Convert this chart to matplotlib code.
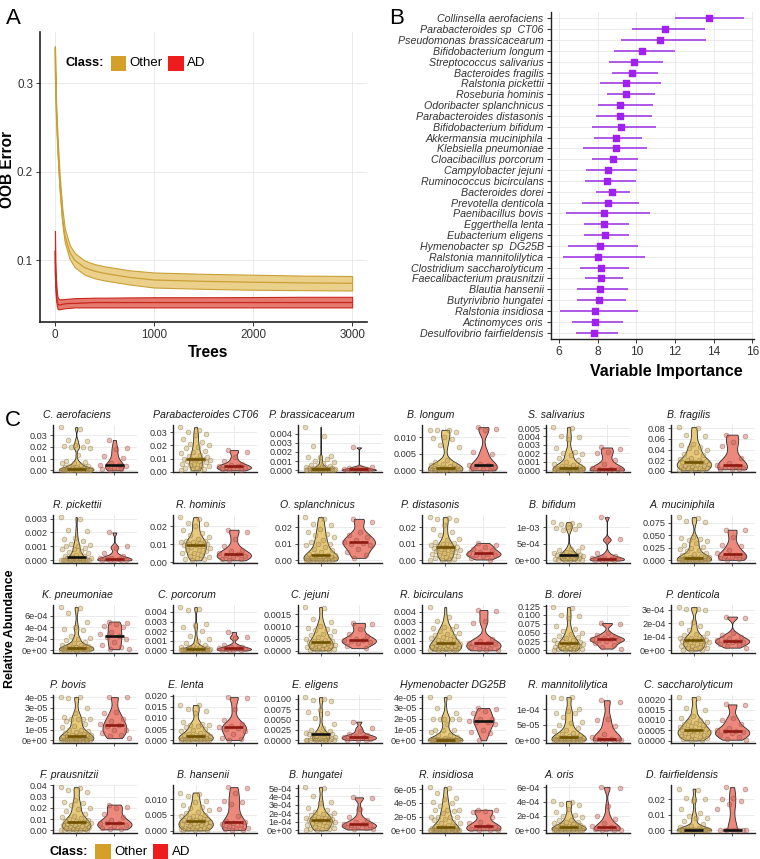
import numpy as np
import matplotlib
matplotlib.use('Agg')
import matplotlib.pyplot as plt
from matplotlib.patches import Rectangle

plt.rcParams['font.family'] = ['Liberation Sans', 'DejaVu Sans']

W, H = 760, 859

# ---- panel A: OOB error vs number of trees
trees = [1, 5, 10, 20, 30, 50, 75, 100, 150, 200, 300, 400, 500, 750, 1000, 1500, 2000, 2500, 3000]
other_mean = [.340, .310, .280, .250, .225, .185, .150, .128, .109, .100, .0915, .0875, .0850, .0805, .0775, .0760, .0750, .0742, .0738]
other_lo = [.338, .305, .273, .242, .216, .176, .141, .120, .101, .092, .0835, .0795, .0770, .0725, .0690, .0675, .0665, .0660, .0656]
other_hi = [.342, .315, .287, .258, .234, .194, .159, .136, .117, .108, .0995, .0955, .0930, .0885, .0860, .0845, .0835, .0825, .0820]
ad_mean = [.110, .085, .070, .055, .050, .049, .050, .0505, .051, .051, .0515, .052, .052, .052, .052, .052, .052, .052, .052]
ad_lo = [.085, .070, .058, .048, .0445, .0445, .045, .0455, .046, .0465, .0465, .0465, .0465, .0465, .0465, .0465, .0465, .0465, .0465]
ad_hi = [.133, .100, .082, .063, .057, .0555, .0558, .056, .0565, .057, .0572, .0575, .0575, .0578, .058, .058, .0582, .0585, .0585]

# ---- panel B: variable importance
b_names = ['Collinsella aerofaciens', 'Parabacteroides sp  CT06', 'Pseudomonas brassicacearum',
           'Bifidobacterium longum', 'Streptococcus salivarius', 'Bacteroides fragilis',
           'Ralstonia pickettii', 'Roseburia hominis', 'Odoribacter splanchnicus',
           'Parabacteroides distasonis', 'Bifidobacterium bifidum', 'Akkermansia muciniphila',
           'Klebsiella pneumoniae', 'Cloacibacillus porcorum', 'Campylobacter jejuni',
           'Ruminococcus bicirculans', 'Bacteroides dorei', 'Prevotella denticola',
           'Paenibacillus bovis', 'Eggerthella lenta', 'Eubacterium eligens',
           'Hymenobacter sp  DG25B', 'Ralstonia mannitolilytica', 'Clostridium saccharolyticum',
           'Faecalibacterium prausnitzii', 'Blautia hansenii', 'Butyrivibrio hungatei',
           'Ralstonia insidiosa', 'Actinomyces oris', 'Desulfovibrio fairfieldensis']
b_mid = [13.74, 11.47, 11.21, 10.28, 9.87, 9.79, 9.49, 9.49, 9.18, 9.18, 9.21, 8.96, 8.93, 8.79, 8.53,
         8.48, 8.75, 8.53, 8.34, 8.33, 8.37, 8.12, 8.00, 8.17, 8.17, 8.15, 8.05, 7.86, 7.88, 7.84]
b_low = [12.02, 9.80, 9.20, 8.86, 8.60, 8.75, 8.12, 8.49, 8.01, 7.91, 7.69, 7.81, 7.25, 7.70, 7.39,
         7.33, 7.91, 7.19, 6.35, 7.31, 7.31, 6.48, 6.21, 7.08, 7.33, 6.93, 6.94, 6.05, 6.66, 6.91]
b_high = [15.55, 13.54, 13.59, 12.01, 11.39, 11.11, 11.30, 10.99, 10.85, 10.80, 11.04, 10.28, 10.53, 10.11, 10.06,
          9.99, 9.67, 10.15, 10.73, 9.61, 9.61, 10.10, 10.44, 9.60, 9.34, 9.58, 9.49, 10.11, 9.32, 9.08]

# ---- panel C: relative abundance per species (values in c_units)
c_titles = ['C. aerofaciens', 'Parabacteroides CT06', 'P. brassicacearum', 'B. longum', 'S. salivarius', 'B. fragilis',
            'R. pickettii', 'R. hominis', 'O. splanchnicus', 'P. distasonis', 'B. bifidum', 'A. muciniphila',
            'K. pneumoniae', 'C. porcorum', 'C. jejuni', 'R. bicirculans', 'B. dorei', 'P. denticola',
            'P. bovis', 'E. lenta', 'E. eligens', 'Hymenobacter DG25B', 'R. mannitolilytica', 'C. saccharolyticum',
            'F. prausnitzii', 'B. hansenii', 'B. hungatei', 'R. insidiosa', 'A. oris', 'D. fairfieldensis']
c_units = [1e-3, 1e-3, 1e-4, 1e-3, 1e-4, 1e-2,
           1e-4, 1e-3, 1e-3, 1e-3, 1e-5, 1e-3,
           1e-5, 1e-4, 1e-4, 1e-4, 1e-3, 1e-5,
           1e-6, 1e-3, 1e-4, 1e-6, 1e-6, 1e-4,
           1e-3, 1e-4, 1e-5, 1e-6, 1e-5, 1e-3]
c_ticks = [[0, 10, 20, 30], [0, 10, 20, 30], [0, 10, 20, 30, 40], [0, 5, 10], [0, 10, 20, 30, 40, 50], [0, 2, 4, 6, 8],
           [0, 10, 20, 30], [0, 10, 20], [0, 10, 20], [0, 10, 20], [0, 50, 100], [0, 25, 50, 75],
           [0, 20, 40, 60], [0, 10, 20, 30, 40], [0, 5, 10, 15], [0, 10, 20, 30, 40], [0, 25, 50, 75, 100, 125], [0, 10, 20, 30],
           [0, 10, 20, 30, 40], [0, 5, 10, 15, 20], [0, 25, 50, 75, 100], [0, 10, 20, 30, 40], [0, 50, 100], [0, 5, 10, 15, 20],
           [0, 10, 20, 30, 40], [0, 50, 100], [0, 10, 20, 30, 40, 50], [0, 20, 40, 60], [0, 20, 40, 60], [0, 10, 20]]
c_fmt = ['{:.2f}', '{:.2f}', '{:.3f}', '{:.3f}', '{:.3f}', '{:.2f}',
         '{:.3f}', '{:.2f}', '{:.2f}', '{:.2f}', '{:.0e}', '{:.3f}',
         '{:.0e}', '{:.3f}', '{:.4f}', '{:.3f}', '{:.3f}', '{:.0e}',
         '{:.0e}', '{:.3f}', '{:.4f}', '{:.0e}', '{:.0e}', '{:.4f}',
         '{:.2f}', '{:.3f}', '{:.0e}', '{:.0e}', '{:.0e}', '{:.2f}']
c_other = [
    [37, 35, 26, 25, 22, 21, 20, 20, 19, 13, 8, 7, 6, 6, 5, 4, 4, 3, 3, 2, 2, 1.5, 1.2, 1.1, 1, 1, 0.8, 0.7, 0.6, 0.5, 0.5, 0.4, 0.3, 0.3, 0.2, 0.2, 0.1, 0.1, 0.05, 0, 0, 0, 0, 0, 0],
    [34, 32, 30, 29, 28, 25, 23, 21, 20, 19, 18, 16, 15, 14, 13, 12, 11, 10, 10, 9.5, 9.5, 9, 8.5, 8, 7, 6, 6, 5, 5, 4, 3, 3, 2, 2, 1, 1],
    [47, 37, 26, 16, 15, 14, 12, 10, 9, 8, 6, 5, 5, 4, 4, 3, 3, 3, 2.5, 2, 2, 2, 1.5, 1, 1, 1, 0.5, 0.5, 0.3, 0.2, 0.1, 0, 0, 0, 0, 0, 0, 0, 0],
    [12.2, 12, 12, 11.5, 10, 9.8, 9.5, 7.5, 7, 3, 2.5, 2, 2, 1.5, 1.2, 1, 0.8, 0.7, 0.6, 0.6, 0.5, 0.5, 0.4, 0.3, 0.3, 0.2, 0.2, 0.1, 0.1, 0, 0, 0, 0, 0, 0],
    [51, 50, 40, 39, 37, 26, 22, 20, 19, 18, 15, 12, 10, 8, 6, 5, 5, 4, 3, 3, 3, 2.5, 2, 2, 1.5, 1, 1, 0.5, 0.5, 0.3, 0.1, 0, 0, 0, 0, 0, 0, 0],
    [8.2, 8.1, 6.8, 6.5, 5.0, 4.8, 4.5, 4.3, 4.0, 3.5, 3.2, 3.0, 2.5, 2.2, 2.0, 2.0, 1.9, 1.7, 1.7, 1.6, 1.5, 1.3, 1.2, 1.0, 1.0, 0.8, 0.7, 0.6, 0.5, 0.5, 0.4, 0.3, 0.2, 0.2, 0.1],
    [31, 30, 22, 21, 16, 15, 14, 12, 11, 10, 10, 9, 8, 8, 7, 6, 5, 4, 3, 3, 2.5, 2, 2, 1.5, 1, 1, 0.5, 0.5, 0.3, 0.2, 0.1, 0, 0, 0, 0, 0, 0, 0, 0, 0, 0, 0],
    [25, 24, 22, 21, 20, 18, 16, 15, 14, 13, 12, 12, 11, 11, 10.5, 10, 10, 9.5, 9.5, 9, 8.5, 8, 7, 6.5, 6, 5, 5, 4, 3.5, 3, 2.5, 2, 1.5, 1],
    [26, 25, 22, 21, 19, 17, 16, 15, 14, 12, 11, 10, 10, 9, 8, 7, 6, 5, 4, 3.5, 3, 3, 2.5, 2, 2, 1.5, 1.5, 1, 1, 0.8, 0.5, 0.5, 0.3, 0.2, 0.1, 0, 0, 0, 0, 0],
    [26, 25.5, 25, 24, 21, 19, 17, 15, 13, 12, 11, 10.5, 10, 9.5, 9, 8.5, 8, 8, 7.5, 7, 7, 6.5, 6, 5.5, 5, 4.5, 4, 3.5, 3, 2.5, 2, 1.5, 1, 0.5, 0.2, 0],
    [115, 112, 108, 105, 100, 98, 95, 90, 40, 35, 30, 28, 25, 22, 20, 18, 17, 16, 16, 15, 14, 12, 10, 9, 8, 6, 5, 4, 3, 2, 1, 0.5, 0, 0],
    [86, 84, 78, 76, 46, 44, 42, 40, 38, 35, 30, 27, 25, 22, 20, 18, 15, 12, 10, 8, 7, 6, 5.5, 5, 4.5, 4, 3.5, 3, 2.5, 2, 1.5, 1, 1, 0.5, 0.5, 0.2, 0.1, 0, 0, 0, 0, 0, 0, 0, 0],
    [75, 74, 65, 50, 40, 37, 36, 25, 22, 20, 18, 15, 12, 10, 9, 8, 7, 6, 5, 5, 4.5, 4, 4, 3.5, 3, 3, 2.5, 2, 2, 1.5, 1, 1, 0.5, 0.5, 0, 0, 0, 0, 0, 0],
    [45, 43, 42, 27, 26, 24, 20, 15, 12, 10, 8, 6, 5, 4, 3, 3, 2, 2, 1.5, 1, 1, 1, 0.8, 0.5, 0.5, 0.3, 0.2, 0.1, 0.1, 0, 0, 0, 0, 0, 0, 0, 0, 0, 0, 0],
    [18, 17.5, 13, 12, 10, 9.5, 9, 8.5, 8, 7, 6.5, 6, 5.5, 5, 4.5, 4, 4, 3.5, 3.5, 3, 3, 2.5, 2.5, 2, 2, 1.5, 1.5, 1, 1, 0.5, 0.5, 0.3, 0.2, 0.1],
    [45, 35, 31, 25, 24, 23, 22, 20, 18, 17, 16, 15, 14, 13, 12, 11, 10, 9, 8, 8, 7.5, 7, 6, 5, 5, 4, 3.5, 3, 2.5, 2, 1.5, 1, 0.5, 0.5, 0.3, 0.2, 0.1, 0],
    [122, 121, 100, 98, 90, 70, 60, 55, 50, 45, 40, 38, 35, 30, 28, 26, 24, 22, 21, 20, 19, 18, 16, 14, 12, 10, 9, 8, 6, 5, 4, 3, 2, 1, 0.5, 0],
    [32, 31, 31, 30, 21, 20, 18, 15, 13, 12, 11, 10, 9.5, 9, 8.5, 8, 8, 7.5, 7, 7, 6.5, 6, 5, 4.5, 4, 3.5, 3, 2.5, 2, 1.5, 1, 0.5, 0.2, 0],
    [40, 40, 39, 30, 25, 22, 20, 20, 20, 20, 18, 15, 13, 12, 10, 10, 9, 8, 7, 6, 5, 5, 4.5, 4, 4, 3.5, 3, 3, 2, 2, 1.5, 1, 1, 0.5, 0, 0, 0, 0, 0, 0, 0, 0, 0, 0, 0, 0],
    [15.8, 15.6, 14, 13, 12, 8, 7.5, 7, 7, 6.5, 6, 5, 4.5, 4, 3.5, 3, 3, 2.5, 2.2, 2, 2, 1.8, 1.5, 1.2, 1, 1, 0.8, 0.5, 0.5, 0.3, 0.2, 0.1, 0, 0, 0, 0, 0, 0],
    [104, 100, 98, 95, 72, 68, 65, 55, 40, 30, 25, 22, 20, 18, 17, 16, 15.5, 15, 14.5, 12, 10, 8, 6, 5, 4, 3, 2, 1.5, 1, 0.5, 0.5, 0, 0, 0, 0, 0],
    [40, 40, 30, 25, 20, 20, 20, 20, 20, 15, 10, 10, 10, 8, 5, 5, 3, 2, 1, 0.5, 0, 0, 0, 0, 0, 0, 0, 0, 0, 0, 0, 0, 0, 0, 0, 0, 0, 0, 0, 0],
    [140, 140, 138, 100, 95, 90, 88, 75, 60, 55, 50, 40, 35, 30, 25, 20, 18, 15, 12, 10, 10, 9, 8, 6, 5, 4, 3, 2, 1, 0.5, 0, 0, 0, 0, 0, 0, 0, 0, 0, 0],
    [21, 20.5, 16, 15, 12, 11, 10, 9.5, 9, 8.5, 8, 7.5, 7, 6.5, 6, 5.5, 5.5, 5, 5, 4.5, 4.5, 4, 4, 3.5, 3, 3, 2.5, 2, 2, 1.5, 1, 1, 0.5, 0.2],
    [38.5, 38, 36, 34, 27, 25, 24, 23, 20, 19, 17, 15, 13, 12, 11, 10, 9, 8.5, 8, 7.5, 7, 7, 6.5, 6, 5.5, 5, 4.5, 4, 3.5, 3, 2.5, 2, 1.5, 1, 0.8, 0.5, 0.4, 0.3, 0.2, 0.1],
    [121, 117, 110, 95, 90, 82, 75, 72, 65, 60, 55, 50, 47, 45, 42, 40, 38, 35, 33, 31, 30, 29, 28, 26, 25, 23, 20, 18, 16, 14, 12, 10, 8, 7, 6, 5, 4, 3, 2, 1],
    [51, 50, 40, 33, 32, 26, 24, 22, 20, 19, 18, 17, 16, 15, 14, 13.5, 13, 12.5, 12, 12, 11, 10, 10, 9, 8, 7, 6, 5, 4, 3, 2, 1.5, 1, 0.5, 0],
    [63, 62, 55, 47, 45, 42, 40, 35, 30, 30, 29, 28, 25, 20, 20, 20, 19, 17, 15, 12, 10, 10, 8, 6, 5, 5, 4, 3, 2, 1, 0, 0, 0, 0, 0, 0, 0, 0, 0, 0, 0, 0, 0, 0, 0, 0, 0, 0],
    [41, 40, 36, 35, 30, 25, 22, 20, 18, 15, 14, 12, 11, 10, 9, 8, 7, 6, 5.5, 5, 4.5, 4.5, 4, 4, 3.5, 3, 2.5, 2, 1.5, 1, 1, 0.5, 0.5, 0, 0, 0, 0, 0, 0, 0],
    [27, 26, 21, 20, 19, 14, 11, 9, 8, 8, 6, 4, 3, 2, 1.5, 1, 0.8, 0.5, 0.4, 0.3, 0.3, 0.2, 0.2, 0.1, 0.1, 0, 0, 0, 0, 0, 0, 0, 0, 0, 0, 0, 0, 0, 0, 0],
]
c_ad = [
    [26, 19, 18, 12, 11, 6, 5, 5, 4, 4, 2, 1, 1, 0],
    [16.5, 15, 11, 8, 6, 5, 4.5, 4, 3.5, 3, 2.5, 2, 1.5, 1],
    [25, 4, 3.5, 3, 2, 1.5, 1, 0.8, 0.5, 0.3, 0.2, 0.1, 0],
    [13, 12.5, 12, 5.5, 5, 1.8, 1.5, 1.5, 1.2, 1, 0.5, 0.3, 0],
    [27, 25, 22, 20, 12, 8, 3, 1.5, 1, 1, 0.5, 0.3, 0.1, 0, 0, 0],
    [6.8, 6.6, 5.5, 4.7, 2.5, 1.5, 1.1, 1.0, 0.8, 0.6, 0.4, 0.3, 0.3],
    [20, 10, 9, 5, 3, 2, 1.5, 1, 0.8, 0.5, 0.3, 0.1, 0, 0],
    [18, 17, 13, 9, 7, 6, 5, 4.5, 4, 3.5, 3, 2, 1.5, 1],
    [25, 23, 17, 15, 14, 12, 11, 10.5, 10, 9, 7, 5, 3, 1.5],
    [10.5, 9, 8, 7, 6, 5, 4.5, 4, 3.5, 3, 2.5, 1.5, 0.5],
    [130, 63, 62, 22, 12, 8, 6, 5, 4, 3, 2, 1, 0.5, 0],
    [61, 60, 47, 31, 28, 20, 15, 10, 9, 8, 6, 4, 2, 1],
    [50, 47, 45, 42, 40, 32, 28, 25, 24, 20, 15, 10, 5, 3, 2],
    [19, 14, 13, 6, 4, 3, 2.5, 2, 1.5, 1, 0.5, 0.3, 0.1, 0],
    [11.5, 11, 9, 7, 6, 5, 4.3, 4.2, 4, 3.5, 3, 2, 1],
    [42, 41, 31, 29, 12, 10, 8, 7.5, 7, 6.5, 5, 3, 2, 1, 0.5, 0],
    [77, 75, 50, 42, 38, 35, 32, 31, 30, 28, 25, 20, 15, 10, 5],
    [25, 24, 13, 11, 10, 9, 8, 7, 7, 6.5, 6, 5, 4, 3, 2],
    [40, 40, 26, 25, 20, 18, 15, 14, 13, 10, 10, 7, 5, 4, 2],
    [19.3, 19, 14, 9, 7.5, 6.5, 6, 5.5, 5, 4, 3, 1, 0.5, 0.2],
    [45, 30, 22, 15, 12, 10, 9, 8, 6, 4, 2, 1, 0.5],
    [30, 29, 27, 25, 20, 20, 18, 17, 17, 15, 10, 8, 7, 0],
    [130, 125, 70, 65, 45, 20, 10, 4, 3, 2, 1, 0.5, 0, 0, 0],
    [17.5, 17, 11, 10, 8, 6, 5, 4.8, 4.5, 4, 3.5, 3, 2, 1, 0.5],
    [23, 21, 20, 15, 12, 9, 7, 6.8, 6.5, 5, 4, 2.5, 1.5, 1],
    [138, 135, 120, 95, 92, 85, 70, 45, 30, 26, 25, 22, 18, 15, 10, 8, 5, 3, 2],
    [39, 38, 25, 16, 12, 10, 8, 7, 6.5, 6, 5, 4, 3, 2, 1],
    [30, 29, 28, 27, 20, 12, 10, 6, 5, 5, 3, 2, 1, 0, 0],
    [60, 59, 34, 20, 16, 10, 6, 4, 3.5, 3, 2, 1.5, 1, 0.5, 0],
    [28, 27, 21, 20.5, 19, 17, 14, 0.3, 0.2, 0.1, 0, 0, 0, 0, 0],
]
# medians drawn in black instead of the group colour: (panel, group)
black_medians = {(0, 1), (3, 1), (6, 0), (10, 0), (12, 1), (20, 0), (21, 1), (29, 0), (29, 1)}

# layout (pixels)
col_left = [53.3, 172.7, 297.7, 422.3, 545.7, 671]
row_bottom = [472.5, 562.5, 652.5, 742.5, 832.5]
c_title_x = [76.7, 206, 312.3, 430.3, 556.7, 688.3, 77.5, 201, 317.3, 430, 552.5, 682.5,
             77.5, 186.7, 309.7, 432, 563, 692.5, 67.5, 185.8, 315, 453.3, 567.5, 688,
             69, 203, 315.5, 445.8, 559.7, 682]

gold = '#D4A02A'
red = '#EE1C1C'
tick_col = '#333333'

fig = plt.figure(figsize=(W / 100, H / 100), dpi=100)


def px_axes(l, t, r, b):
    return fig.add_axes([l / W, 1 - b / H, (r - l) / W, (b - t) / H])


def fig_text(x, y, s, **kw):
    fig.text(x / W, 1 - y / H, s, **kw)


def fig_rect(l, t, r, b, color):
    fig.add_artist(Rectangle((l / W, 1 - b / H), (r - l) / W, (b - t) / H,
                             transform=fig.transFigure, facecolor=color, edgecolor='none'))


def style_axes(ax, size, lw=1.0):
    for s in ['top', 'right']:
        ax.spines[s].set_visible(False)
    for s in ['left', 'bottom']:
        ax.spines[s].set_color('#222222')
        ax.spines[s].set_linewidth(lw)
    ax.tick_params(labelsize=size, colors=tick_col, length=3, width=0.7, pad=2)
    ax.grid(True, color='#EBEBEB', lw=0.7)
    ax.set_axisbelow(True)


def legend(x, y):
    fig_text(x, y, 'Class:', fontsize=9.3, fontweight='bold', va='center')
    fig_rect(x + 45, y - 7.5, x + 60.5, y + 7.5, gold)
    fig_text(x + 64, y, 'Other', fontsize=9.5, va='center')
    fig_rect(x + 102.5, y - 7.5, x + 118, y + 7.5, red)
    fig_text(x + 121.5, y, 'AD', fontsize=9.5, va='center')


# ---------------- A
axA = px_axes(40, 32, 367, 322)
axA.fill_between(trees, other_lo, other_hi, facecolor='#EBD08C', edgecolor='#C9A035', lw=0.8)
axA.plot(trees, other_mean, color='#C9A035', lw=0.9)
axA.fill_between(trees, ad_lo, ad_hi, facecolor='#E57A6E', edgecolor='#C8281E', lw=0.8)
axA.plot(trees, ad_mean, color='#C8281E', lw=0.9)
axA.set_xlim(-150, 3150)
axA.set_ylim(0.030, 0.358)
axA.set_xticks([0, 1000, 2000, 3000])
axA.set_yticks([0.1, 0.2, 0.3])
style_axes(axA, 8.4, lw=1.2)
fig_text(208, 352.7, 'Trees', fontsize=11.2, fontweight='bold', ha='center', va='center')
fig_text(8, 169, 'OOB Error', fontsize=11.2, fontweight='bold', ha='center', va='center', rotation=90)
legend(65.7, 63.3)

# ---------------- B
axB = px_axes(550.5, 11.8, 754, 339.2)
rows = np.arange(len(b_names))
axB.hlines(rows, b_low, b_high, color='#A94BE6', lw=1.3, zorder=2)
axB.scatter(b_mid, rows, marker='s', s=14, color='#A020F0', zorder=3)
axB.set_ylim(len(b_names) - 0.4, -0.6)
axB.set_xlim(5.57, 16.08)
axB.set_xticks([6, 8, 10, 12, 14, 16])
axB.set_yticks(rows)
axB.set_yticklabels(b_names, fontstyle='italic', fontsize=7.7, color='#1A1A1A')
style_axes(axB, 8.6)
axB.tick_params(axis='y', labelsize=7.7)
fig_text(666, 371.7, 'Variable Importance', fontsize=11.5, fontweight='bold', ha='center', va='center')

# ---------------- C


def kde(v):
    n = len(v)
    sd = v.std(ddof=1)
    q75, q25 = np.percentile(v, [75, 25])
    lo = min(sd, (q75 - q25) / 1.34)
    if lo <= 0:
        lo = sd
    bw = 0.9 * lo * n ** -0.2
    y = np.linspace(v.min(), v.max(), 300)
    d = np.exp(-0.5 * ((y[:, None] - v[None, :]) / bw) ** 2).sum(1) / (n * bw * np.sqrt(2 * np.pi))
    return y, d


v_fill = ['#E8CA7C', '#EC887C']
p_face = [(0.76, 0.64, 0.38, 0.42), (0.76, 0.38, 0.34, 0.42)]
p_edge = [(0.50, 0.42, 0.20, 0.5), (0.55, 0.28, 0.24, 0.5)]
med_col = ['#6E5200', '#8E1A12']

for i in range(30):
    r, c = divmod(i, 6)
    b = row_bottom[r]
    ax = px_axes(col_left[c], b - 47.5, col_left[c] + 84, b)
    u = c_units[i]
    groups = [np.array(c_other[i], float) * u, np.array(c_ad[i], float) * u]
    dens = [kde(g) for g in groups]
    m = max(d.max() for _, d in dens)
    for k in range(2):
        g = groups[k]
        yy, d = dens[k]
        x0 = k + 1
        half = d / m * 0.45
        ax.fill_betweenx(yy, x0 - half, x0 + half, facecolor=v_fill[k], edgecolor='#2A2A2A',
                         lw=0.6, zorder=2)
        n = len(g)
        offs = ((np.arange(n) * 0.618034 + 0.31 * k) % 1 - 0.5) * 0.8
        ax.scatter(x0 + offs, g, s=12, facecolor=p_face[k], edgecolor=p_edge[k], lw=0.5, zorder=3)
        col = '#111111' if (i, k) in black_medians else med_col[k]
        ax.hlines(np.median(g), x0 - 0.25, x0 + 0.25, color=col, lw=1.9, zorder=4)
    allv = np.concatenate(groups)
    lo, hi = allv.min(), allv.max()
    rng = hi - lo
    ax.set_ylim(lo - 0.05 * rng, hi + 0.05 * rng)
    ax.set_xlim(0.4, 2.6)
    ax.set_xticks([1, 2])
    ax.set_xticklabels([])
    ticks = [t * u for t in c_ticks[i]]
    ax.set_yticks(ticks)
    ax.set_yticklabels([c_fmt[i].format(t) for t in ticks])
    style_axes(ax, 6.6)
    ax.tick_params(length=2.5, width=0.6, pad=1.5)
    fig_text(c_title_x[i], b - 47.5 - 10, c_titles[i], fontsize=7.6, fontstyle='italic',
             ha='center', va='center', color='#1A1A1A')

fig_text(10, 629, 'Relative Abundance', fontsize=8.9, fontweight='bold', ha='center', va='center', rotation=90)
legend(50, 851.7)

# panel letters
fig_text(13, 18, 'A', fontsize=16, ha='center', va='center')
fig_text(397, 18, 'B', fontsize=16, ha='center', va='center')
fig_text(13, 420, 'C', fontsize=16, ha='center', va='center')

fig.savefig('out.png', dpi=100)
